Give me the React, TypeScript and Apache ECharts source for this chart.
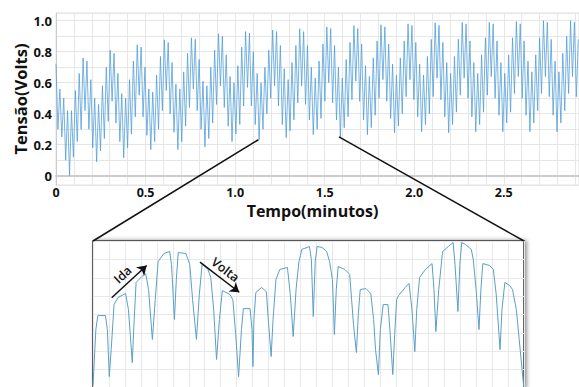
import React, { useEffect, useRef } from "react";
import * as echarts from "echarts";

// Sinal completo: amostras de tensão (V) com passo fixo de tempo (min)
const passoMin = 0.0108;
const tensao = [
  0.72, 0.30, 0.56, 0.25, 0.50, 0.10, 0.42, 0.00,
  0.42, 0.12, 0.55, 0.22, 0.66, 0.30, 0.76, 0.42, 0.74, 0.30, 0.62, 0.18, 0.50, 0.09,
  0.46, 0.16, 0.58, 0.24, 0.70, 0.35, 0.81, 0.48, 0.79, 0.34, 0.66, 0.22, 0.53, 0.116,
  0.50, 0.18, 0.62, 0.27, 0.74, 0.38, 0.845, 0.52, 0.83, 0.38, 0.70, 0.26, 0.56, 0.168,
  0.54, 0.22, 0.65, 0.30, 0.77, 0.42, 0.877, 0.55, 0.86, 0.40, 0.73, 0.28, 0.59, 0.168,
  0.56, 0.22, 0.67, 0.32, 0.79, 0.44, 0.89, 0.56, 0.88, 0.42, 0.75, 0.30, 0.61, 0.187,
  0.58, 0.24, 0.70, 0.34, 0.81, 0.46, 0.916, 0.58, 0.90, 0.44, 0.78, 0.32, 0.64, 0.22,
  0.60, 0.27, 0.71, 0.33, 0.83, 0.45, 0.93, 0.57, 0.92, 0.45, 0.80, 0.33, 0.66, 0.232,
  0.60, 0.30, 0.70, 0.40, 0.81, 0.50, 0.94, 0.58, 0.93, 0.45, 0.84, 0.33, 0.69, 0.245,
  0.62, 0.29, 0.73, 0.36, 0.84, 0.47, 0.948, 0.58, 0.93, 0.46, 0.84, 0.36, 0.70, 0.265,
  0.63, 0.30, 0.74, 0.37, 0.85, 0.48, 0.96, 0.60, 0.95, 0.47, 0.84, 0.36, 0.70, 0.25,
  0.63, 0.31, 0.75, 0.38, 0.86, 0.49, 0.968, 0.61, 0.95, 0.48, 0.85, 0.36, 0.71, 0.265,
  0.64, 0.31, 0.76, 0.39, 0.87, 0.50, 0.974, 0.62, 0.96, 0.48, 0.85, 0.37, 0.72, 0.277,
  0.65, 0.32, 0.76, 0.40, 0.87, 0.51, 0.98, 0.62, 0.97, 0.49, 0.86, 0.38, 0.72, 0.284,
  0.65, 0.33, 0.77, 0.40, 0.88, 0.51, 0.987, 0.63, 0.97, 0.49, 0.86, 0.38, 0.73, 0.277,
  0.66, 0.33, 0.77, 0.41, 0.88, 0.52, 0.99, 0.63, 0.98, 0.50, 0.87, 0.38, 0.73, 0.284,
  0.66, 0.33, 0.78, 0.41, 0.89, 0.52, 0.99, 0.64, 0.98, 0.50, 0.87, 0.39, 0.73, 0.284,
  0.66, 0.34, 0.78, 0.41, 0.89, 0.53, 0.995, 0.64, 0.98, 0.50, 0.87, 0.39, 0.74, 0.284,
  0.67, 0.34, 0.78, 0.42, 0.89, 0.53, 1.0, 0.64, 0.99, 0.51, 0.88, 0.39, 0.74, 0.284,
  0.67, 0.34, 0.79, 0.42, 0.90, 0.53, 1.0, 0.64, 0.99, 0.51, 0.88,
];

// Trecho ampliado (min, V)
const zoomInicio = 1.13;
const zoomFim = 1.58;
const zoomTempo = [
  1.130, 1.133, 1.135, 1.143, 1.145, 1.147, 1.149, 1.152, 1.156, 1.164, 1.167, 1.171, 1.173, 1.175, 1.181, 1.185,
  1.188, 1.192, 1.195, 1.198, 1.204, 1.210, 1.212, 1.215, 1.217, 1.219, 1.227, 1.231, 1.234, 1.238, 1.241, 1.244,
  1.250, 1.253, 1.256, 1.259, 1.262, 1.265, 1.273, 1.276, 1.279, 1.282, 1.285, 1.287, 1.294, 1.296, 1.297, 1.298,
  1.300, 1.306, 1.311, 1.313, 1.316, 1.318, 1.321, 1.325, 1.333, 1.336, 1.339, 1.342, 1.345, 1.348, 1.356, 1.358,
  1.360, 1.362, 1.364, 1.369, 1.374, 1.377, 1.380, 1.382, 1.384, 1.386, 1.393, 1.398, 1.400, 1.402, 1.405, 1.407,
  1.409, 1.415, 1.420, 1.423, 1.425, 1.428, 1.430, 1.433, 1.438, 1.440, 1.443, 1.445, 1.447, 1.449, 1.456, 1.460,
  1.463, 1.466, 1.468, 1.471, 1.477, 1.484, 1.486, 1.488, 1.491, 1.495, 1.501, 1.506, 1.508, 1.511, 1.513, 1.515,
  1.519, 1.525, 1.527, 1.530, 1.533, 1.535, 1.537, 1.544, 1.548, 1.551, 1.555, 1.557, 1.560, 1.565, 1.568, 1.572,
  1.575, 1.578, 1.580,
];
const zoomTensao = [
  0.183, 0.488, 0.564, 0.564, 0.488, 0.232, 0.379, 0.624, 0.662, 0.684, 0.597, 0.308, 0.543, 0.744, 0.777, 0.793,
  0.706, 0.434, 0.651, 0.858, 0.902, 0.913, 0.842, 0.543, 0.760, 0.907, 0.902, 0.842, 0.651, 0.434, 0.679, 0.847,
  0.815, 0.771, 0.597, 0.325, 0.543, 0.700, 0.679, 0.651, 0.461, 0.232, 0.488, 0.602, 0.602, 0.488, 0.287, 0.543,
  0.690, 0.717, 0.695, 0.543, 0.341, 0.543, 0.760, 0.815, 0.826, 0.679, 0.450, 0.706, 0.858, 0.924, 0.940, 0.869,
  0.559, 0.858, 0.940, 0.935, 0.913, 0.858, 0.760, 0.461, 0.706, 0.831, 0.815, 0.788, 0.651, 0.515, 0.363, 0.570,
  0.706, 0.711, 0.684, 0.543, 0.379, 0.243, 0.488, 0.624, 0.624, 0.488, 0.243, 0.461, 0.651, 0.673, 0.717, 0.739,
  0.597, 0.368, 0.597, 0.771, 0.815, 0.847, 0.706, 0.477, 0.706, 0.913, 0.940, 0.962, 0.842, 0.586, 0.842, 0.962,
  0.951, 0.924, 0.869, 0.706, 0.488, 0.706, 0.847, 0.837, 0.815, 0.679, 0.379, 0.597, 0.744, 0.728, 0.706, 0.597,
  0.434, 0.270, 0.161,
];

// Tensão do sinal nos pontos onde começam as linhas de ligação
const conectorTensao = [0.232, 0.25];

// Setas "Ida" / "Volta" (min, V)
const setaIda = [[1.1495, 0.661], [1.186, 0.837]];
const setaVolta = [[1.2417, 0.855], [1.2827, 0.691]];

const FONT = "'Open Sans', 'DejaVu Sans', sans-serif";

export default function App() {
  const ref = useRef<HTMLDivElement>(null);
  useEffect(() => {
    const chart = echarts.init(ref.current!, null, { renderer: "svg" });
    const dadosSinal = tensao.map((v, i) => [+(i * passoMin).toFixed(4), v]);
    const dadosZoom = zoomTempo.map((t, i) => [t, zoomTensao[i]]);

    const fmtX = (v: number) => {
      const r = Math.round(v * 10);
      if (Math.abs(v * 10 - r) > 1e-6 || r % 5 !== 0) return "";
      return r === 0 ? "0" : (r / 10).toFixed(1);
    };
    const fmtY = (v: number) => {
      const r = Math.round(v * 10);
      if (Math.abs(v * 10 - r) > 1e-6 || r % 2 !== 0 || r < 0) return "";
      return r === 0 ? "0" : (r / 10).toFixed(1);
    };

    chart.setOption({
      animation: false,
      backgroundColor: "#ffffff",
      grid: [
        { left: 56, right: 0, top: 13, height: 172, show: true, borderColor: "#e2e2e2", borderWidth: 1, containLabel: false, outerBoundsMode: "none" },
        {
          left: 93, width: 431, top: 241, height: 147, show: true, backgroundColor: "#ffffff",
          borderColor: "#333333", borderWidth: 1.5, containLabel: false, outerBoundsMode: "none",
          shadowColor: "rgba(0,0,0,0.45)", shadowBlur: 4, shadowOffsetX: 2, shadowOffsetY: 0,
        },
      ],
      xAxis: [
        {
          type: "value", gridIndex: 0, min: 0, max: 2.92, interval: 0.1,
          name: "Tempo(minutos)", nameLocation: "middle", nameGap: 19, nameMoveOverlap: false,
          nameTextStyle: { fontFamily: FONT, fontWeight: "bold", fontSize: 16, lineHeight: 14, color: "#111", padding: [0, 10, 0, 0] },
          axisLine: { show: true, lineStyle: { color: "#cccccc", width: 2 } },
          axisTick: { show: false },
          axisLabel: { formatter: fmtX, margin: 1, lineHeight: 13, fontFamily: FONT, fontWeight: "bold", fontSize: 12.5, color: "#111", showMaxLabel: false },
          splitLine: { show: true, lineStyle: { color: "#e6e6e6", width: 1 } },
        },
        {
          type: "value", gridIndex: 1, min: zoomInicio, max: zoomFim, interval: 1 / 60,
          axisLine: { show: false }, axisTick: { show: false }, axisLabel: { show: false },
          splitLine: { show: true, lineStyle: { color: "#e8e8e8", width: 1 } },
        },
      ],
      yAxis: [
        {
          type: "value", gridIndex: 0, min: -0.06, max: 1.05, minInterval: 0.1, maxInterval: 0.1, splitNumber: 11,
          name: "Tensão(Volts)", nameLocation: "middle", nameGap: 27, nameRotate: 90, nameMoveOverlap: false,
          nameTextStyle: { fontFamily: FONT, fontWeight: "bold", fontSize: 16.5, lineHeight: 18, color: "#111" },
          axisLine: { show: true, lineStyle: { color: "#cccccc", width: 1 } },
          axisTick: { show: false },
          axisLabel: { formatter: fmtY, margin: 4, fontFamily: FONT, fontWeight: "bold", fontSize: 13, color: "#111", showMinLabel: false, showMaxLabel: false },
          splitLine: { show: true, lineStyle: { color: "#e6e6e6", width: 1 } },
        },
        {
          type: "value", gridIndex: 1, min: 0.17, max: 0.97, interval: 0.1,
          axisLine: { show: false }, axisTick: { show: false }, axisLabel: { show: false },
          splitLine: { show: true, lineStyle: { color: "#e8e8e8", width: 1 } },
        },
      ],
      series: [
        {
          type: "line", xAxisIndex: 0, yAxisIndex: 0, data: dadosSinal, symbol: "none",
          lineStyle: { color: "#4b9bd8", width: 1, opacity: 0.75 },
        },
        {
          type: "line", xAxisIndex: 1, yAxisIndex: 1, data: dadosZoom, symbol: "none",
          lineStyle: { color: "#5a9fc8", width: 1 },
          markLine: {
            silent: true, symbol: ["none", "arrow"], symbolSize: 9, precision: 4,
            lineStyle: { color: "#111111", width: 1.5, type: "solid" },
            label: { show: true, position: "insideMiddleTop", formatter: "{b}", fontFamily: FONT, fontSize: 12.5, fontWeight: 600, color: "#111", distance: 3 },
            data: [
              [{ name: "Ida", coord: setaIda[0] }, { coord: setaIda[1] }],
              [{ name: "Volta", coord: setaVolta[0] }, { coord: setaVolta[1] }],
            ],
          },
        },
      ],
    });

    const a1 = chart.convertToPixel({ gridIndex: 0 }, [zoomInicio, conectorTensao[0]]) as number[];
    const a2 = chart.convertToPixel({ gridIndex: 0 }, [zoomFim, conectorTensao[1]]) as number[];
    const b1 = chart.convertToPixel({ gridIndex: 1 }, [zoomInicio, 0.97]) as number[];
    const b2 = chart.convertToPixel({ gridIndex: 1 }, [zoomFim, 0.97]) as number[];
    chart.setOption({
      graphic: [
        { type: "line", shape: { x1: a1[0], y1: a1[1], x2: b1[0], y2: b1[1] }, style: { stroke: "#111", lineWidth: 1.5 }, z: 100 },
        { type: "line", shape: { x1: a2[0], y1: a2[1], x2: b2[0], y2: b2[1] }, style: { stroke: "#111", lineWidth: 1.5 }, z: 100 },
      ],
    });

    return () => chart.dispose();
  }, []);

  return <div ref={ref} style={{ position: "absolute", left: 0, top: 0, width: 579, height: 387 }} />;
}
